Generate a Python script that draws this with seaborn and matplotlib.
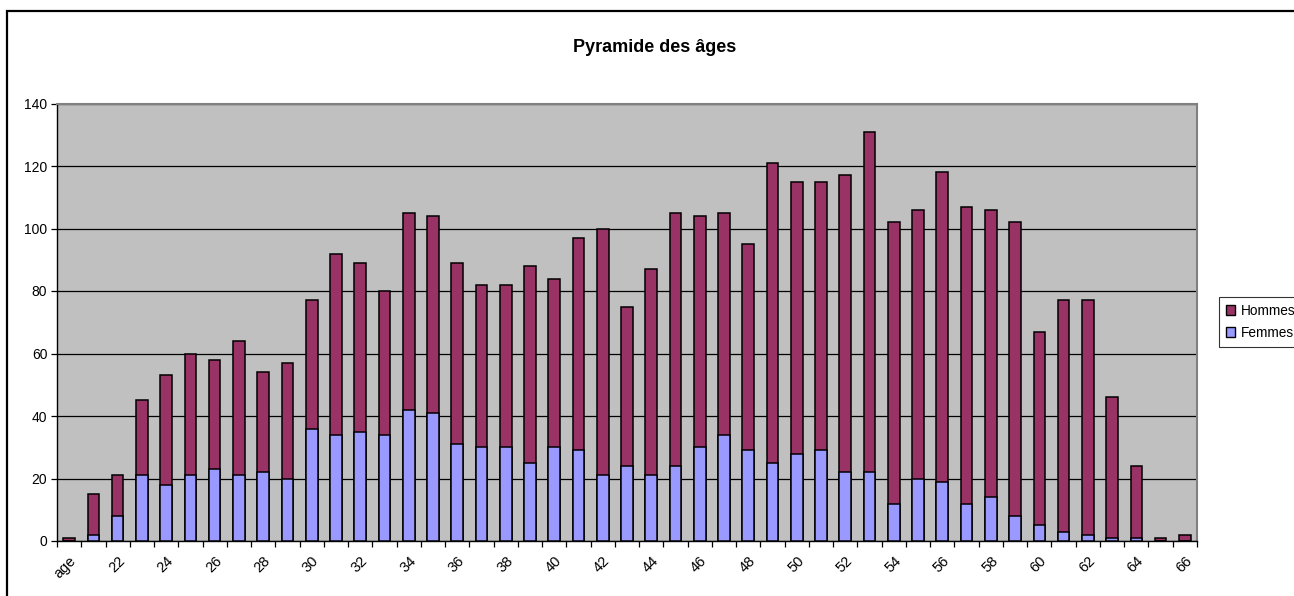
import numpy as np
import pandas as pd
import matplotlib
matplotlib.use("Agg")
import matplotlib.pyplot as plt
import matplotlib.patches as mpatches
from matplotlib.ticker import FixedLocator
import seaborn as sns

# Data
categories = ["age"] + [str(a) for a in range(21, 67)]
femmes = [0, 2, 8, 21, 18, 21, 23, 21, 22, 20, 36, 34, 35, 34, 42, 41, 31, 30,
          30, 25, 30, 29, 21, 24, 21, 24, 30, 34, 29, 25, 28, 29, 22, 22, 12, 20,
          19, 12, 14, 8, 5, 3, 2, 1, 1, 0, 0]
hommes = [1, 13, 13, 24, 35, 39, 35, 43, 32, 37, 41, 58, 54, 46, 63, 63, 58, 52,
          52, 63, 54, 68, 79, 51, 66, 81, 74, 71, 66, 96, 87, 86, 95, 109, 90, 86,
          99, 95, 92, 94, 62, 74, 75, 45, 23, 1, 2]
yticks = [0, 20, 40, 60, 80, 100, 120, 140]

c_hommes = "#993366"
c_femmes = "#9999FF"

df = pd.DataFrame({"age": categories, "Femmes": femmes, "Hommes": hommes})
df["total"] = df["Femmes"] + df["Hommes"]

sns.set_style("white")
plt.rcParams["font.family"] = ["Liberation Sans", "DejaVu Sans"]
for key in ["text.color", "axes.labelcolor", "xtick.color", "ytick.color"]:
    plt.rcParams[key] = "black"

W, H = 1294, 596
fig = plt.figure(figsize=(W / 100, H / 100), dpi=100)
ax = fig.add_axes([57 / W, 1 - 541 / H, (1197 - 57) / W, (541 - 103.5) / H])
ax.set_facecolor("#C0C0C0")

# stacked bars: total (Hommes on top) first, Femmes drawn over it
sns.barplot(data=df, x="age", y="total", color=c_hommes, saturation=1,
            edgecolor="black", linewidth=1.1, width=0.48, ax=ax, zorder=3)
sns.barplot(data=df, x="age", y="Femmes", color=c_femmes, saturation=1,
            edgecolor="black", linewidth=1.1, width=0.48, ax=ax, zorder=4)

n = len(categories)
ax.set_xlim(-0.5, n - 0.5)
ax.set_ylim(0, 140)
ax.set_yticks(yticks)
ax.yaxis.grid(True, color="black", linewidth=0.9)
ax.set_axisbelow(True)

ax.xaxis.set_major_locator(FixedLocator(list(range(0, n, 2))))
ax.set_xticklabels(categories[::2], rotation=45, ha="right",
                   rotation_mode="anchor", fontsize=10.5)
ax.xaxis.set_minor_locator(FixedLocator([i + 0.5 for i in range(-1, n)]))
ax.tick_params(axis="x", which="major", length=0, pad=9)
ax.tick_params(axis="x", which="minor", length=4, width=0.9, color="black",
               direction="out", bottom=True)
ax.tick_params(axis="y", length=4, width=0.9, color="black", direction="out",
               left=True, labelsize=10, pad=3)
ax.set_xlabel("")
ax.set_ylabel("")

for side in ["left", "bottom"]:
    ax.spines[side].set_color("black")
    ax.spines[side].set_linewidth(1)
for side in ["top", "right"]:
    ax.spines[side].set_color("#808080")
    ax.spines[side].set_linewidth(1.5)

fig.text(655 / W, 1 - 47 / H, "Pyramide des âges", ha="center", va="center",
         fontsize=13, fontweight="bold", color="black")

handles = [mpatches.Patch(facecolor=c_hommes, edgecolor="black", label="Hommes"),
           mpatches.Patch(facecolor=c_femmes, edgecolor="black", label="Femmes")]
leg = fig.legend(handles=handles, loc="upper left",
                 bbox_to_anchor=(1219 / W, 1 - 297 / H), fontsize=9.8,
                 frameon=True, fancybox=False, handlelength=0.7,
                 handleheight=0.7, handletextpad=0.4, borderpad=0.5,
                 labelspacing=0.6, borderaxespad=0)
leg.get_frame().set_edgecolor("black")
leg.get_frame().set_linewidth(0.8)

# outer chart border
fig.patches.append(mpatches.Rectangle((7 / W, -0.1), 1.2, 1 - 11 / H + 0.1,
                                      transform=fig.transFigure, fill=False,
                                      edgecolor="black", linewidth=1.6))

fig.savefig("out.png", dpi=100)
